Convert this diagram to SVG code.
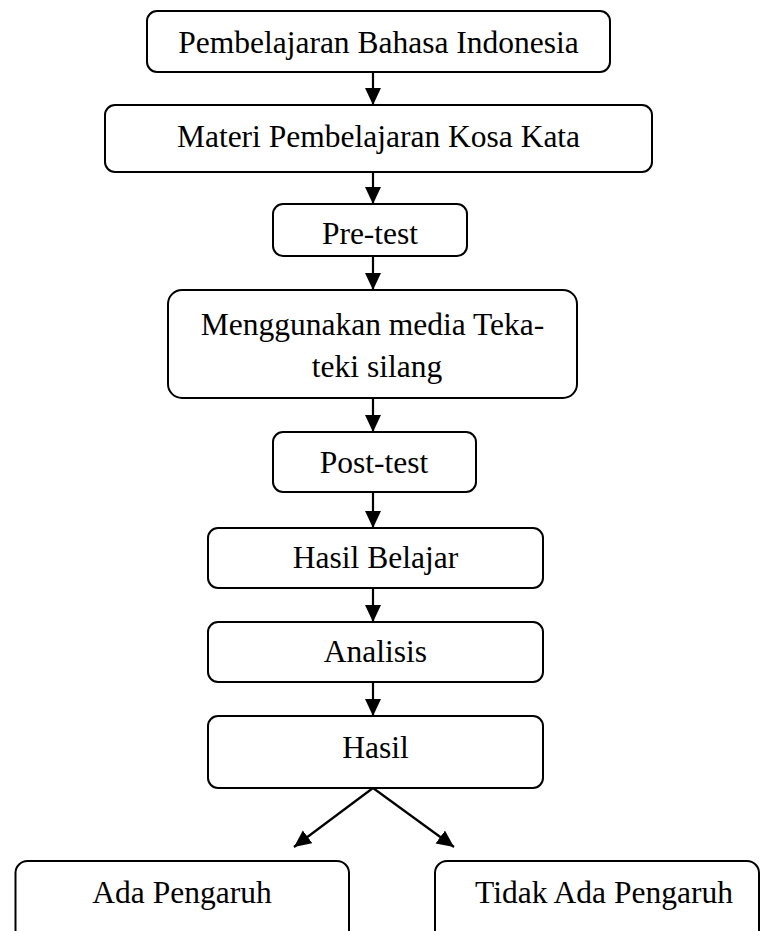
<svg xmlns="http://www.w3.org/2000/svg" width="762" height="931" viewBox="0 0 762 931">
<style>
.box{fill:#fff;stroke:#000;stroke-width:2}
.t{font-family:"Liberation Serif","Times New Roman",serif;font-size:31.5px;fill:#000;text-anchor:middle}
.c{stroke:#000;stroke-width:2.2;fill:none}
</style>
<defs>
<marker id="ah" markerUnits="userSpaceOnUse" markerWidth="18" markerHeight="18" refX="17" refY="8" orient="auto">
<path d="M0,0 L17,8 L0,16 z" fill="#000"/>
</marker>
</defs>
<rect width="762" height="931" fill="#fff"/>
<g id="connectors">
<line class="c" x1="373" y1="72" x2="373" y2="105" marker-end="url(#ah)"/>
<line class="c" x1="373" y1="172" x2="373" y2="204" marker-end="url(#ah)"/>
<line class="c" x1="373" y1="256" x2="373" y2="290" marker-end="url(#ah)"/>
<line class="c" x1="373" y1="398" x2="373" y2="432" marker-end="url(#ah)"/>
<line class="c" x1="373" y1="492" x2="373" y2="528" marker-end="url(#ah)"/>
<line class="c" x1="373" y1="588" x2="373" y2="622" marker-end="url(#ah)"/>
<line class="c" x1="373" y1="682" x2="373" y2="716" marker-end="url(#ah)"/>
<line class="c" x1="373" y1="788" x2="294" y2="847" marker-end="url(#ah)"/>
<line class="c" x1="373" y1="788" x2="454" y2="847" marker-end="url(#ah)"/>
</g>
<g id="n1"><rect class="box" x="147" y="11" width="463" height="61" rx="10"/><text class="t" x="378.5" y="53">Pembelajaran Bahasa Indonesia</text></g>
<g id="n2"><rect class="box" x="105" y="105" width="547" height="67" rx="10"/><text class="t" x="378.5" y="147">Materi Pembelajaran Kosa Kata</text></g>
<g id="n3"><rect class="box" x="273" y="204" width="194" height="52" rx="10"/><text class="t" x="370" y="244">Pre-test</text></g>
<g id="n4"><rect class="box" x="168" y="290" width="409" height="108" rx="14"/><text class="t" x="372.5" y="335">Menggunakan media Teka-</text><text class="t" x="377" y="377">teki silang</text></g>
<g id="n5"><rect class="box" x="273" y="432" width="203" height="60" rx="10"/><text class="t" x="374" y="473">Post-test</text></g>
<g id="n6"><rect class="box" x="208" y="528" width="335" height="60" rx="10"/><text class="t" x="375.5" y="568">Hasil Belajar</text></g>
<g id="n7"><rect class="box" x="208" y="622" width="335" height="60" rx="10"/><text class="t" x="375.5" y="662">Analisis</text></g>
<g id="n8"><rect class="box" x="208" y="716" width="335" height="72" rx="10"/><text class="t" x="375.5" y="758">Hasil</text></g>
<g id="n9"><rect class="box" x="15.5" y="861" width="333.5" height="100" rx="12"/><text class="t" x="182" y="903">Ada Pengaruh</text></g>
<g id="n10"><rect class="box" x="435" y="861" width="324" height="100" rx="12"/><text class="t" x="604" y="903">Tidak Ada Pengaruh</text></g>
</svg>
